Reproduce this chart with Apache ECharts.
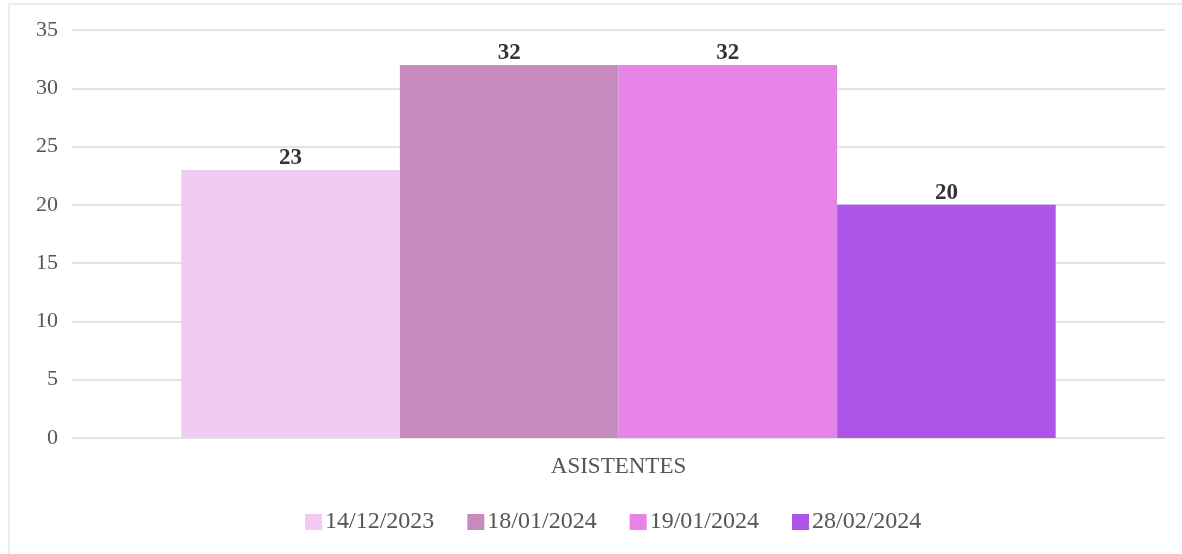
<!DOCTYPE html>
<html>
<head>
<meta charset="utf-8">
<script src="https://cdn.jsdelivr.net/npm/echarts@6/dist/echarts.min.js"></script>
<style>
  html, body { margin: 0; padding: 0; background: #fff; }
  #frame { position: absolute; left: 8px; top: 3px; right: 0; bottom: 0;
           border-left: 2px solid #ececec; border-top: 2px solid #ececec; }
  #chart { position: absolute; left: 0; top: 0; width: 1182px; height: 554px; }
</style>
</head>
<body>
<div id="frame"></div>
<div id="chart"></div>
<script>
const categories = ['ASISTENTES']
const seriesNames = ['14/12/2023', '18/01/2024', '19/01/2024', '28/02/2024']
const seriesValues = [[23], [32], [32], [20]]
const seriesColors = ['#f2cbf3', '#c78cbd', '#e683e6', '#ae55e9']

const font = '"Liberation Serif", "DejaVu Serif", serif'

const chart = echarts.init(document.getElementById('chart'), null, { renderer: 'canvas' })

chart.setOption({
  animation: false,
  textStyle: { fontFamily: font },
  grid: { left: 72, right: 17, top: 30, bottom: 116, containLabel: false },
  legend: {
    top: 505,
    left: 300,
    itemWidth: 17,
    itemHeight: 16,
    itemGap: 33,
    icon: 'rect',
    textStyle: { fontFamily: font, fontSize: 24, color: '#555', padding: [0, 0, 0, -2] },
    data: seriesNames
  },
  xAxis: {
    type: 'category',
    data: categories,
    axisLine: { show: false },
    axisTick: { show: false },
    axisLabel: { fontFamily: font, fontSize: 23, color: '#555', margin: 17 }
  },
  yAxis: {
    type: 'value',
    min: 0,
    max: 35,
    interval: 5,
    axisLine: { show: false },
    axisTick: { show: false },
    axisLabel: { fontFamily: font, fontSize: 22, color: '#555', margin: 14 },
    splitLine: { lineStyle: { color: '#e4e4e4', width: 2 } }
  },
  series: seriesNames.map((name, i) => ({
    name,
    type: 'bar',
    data: seriesValues[i],
    barGap: '0%',
    barCategoryGap: '20%',
    itemStyle: { color: seriesColors[i] },
    label: {
      show: true,
      position: 'top',
      distance: 0,
      fontFamily: font,
      fontSize: 23,
      fontWeight: 'bold',
      color: '#333'
    }
  }))
})
</script>
</body>
</html>
